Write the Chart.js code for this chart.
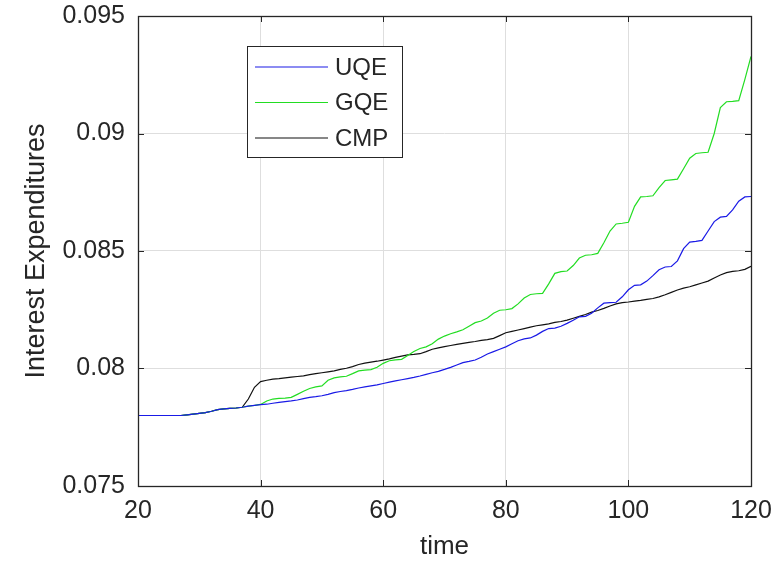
<!DOCTYPE html>
<html>
<head>
<meta charset="utf-8">
<script src="https://cdn.jsdelivr.net/npm/chart.js@4/dist/chart.umd.min.js"></script>
<style>
    html, body { margin: 0; padding: 0; background: #fff; }
    #wrap { width: 773px; height: 567px; }
</style>
</head>
<body>
<div id="wrap"><canvas id="interestChart" width="773" height="567"></canvas></div>
<script>
// time grid, 20..120
var time = [20, 21, 22, 23, 24, 25, 26, 27, 28, 29, 30, 31, 32, 33, 34, 35, 36, 37, 38, 39,
    40, 41, 42, 43, 44, 45, 46, 47, 48, 49, 50, 51, 52, 53, 54, 55, 56, 57, 58, 59,
    60, 61, 62, 63, 64, 65, 66, 67, 68, 69, 70, 71, 72, 73, 74, 75, 76, 77, 78, 79,
    80, 81, 82, 83, 84, 85, 86, 87, 88, 89, 90, 91, 92, 93, 94, 95, 96, 97, 98, 99,
    100, 101, 102, 103, 104, 105, 106, 107, 108, 109, 110, 111, 112, 113, 114, 115, 116, 117, 118, 119, 120];

// UQE
var uqe = [0.0780, 0.0780, 0.0780, 0.0780, 0.0780, 0.0780, 0.0780, 0.0780, 0.07803, 0.07806,
    0.07809, 0.07812, 0.07818, 0.07825, 0.07828, 0.0783, 0.07832, 0.07835, 0.0784, 0.07843,
    0.07846, 0.07848, 0.07852, 0.07856, 0.07859, 0.07862, 0.07866, 0.07872, 0.07877, 0.0788,
    0.07884, 0.0789, 0.07897, 0.07902, 0.07906, 0.07911, 0.07917, 0.07922, 0.07926, 0.0793,
    0.07936, 0.07942, 0.07947, 0.07952, 0.07957, 0.07962, 0.07968, 0.07975, 0.07982, 0.07988,
    0.07996, 0.08005, 0.08015, 0.08025, 0.0803, 0.08036, 0.08048, 0.08062, 0.08072, 0.08082,
    0.08092, 0.08105, 0.08118, 0.08126, 0.0813, 0.08142, 0.08158, 0.0817, 0.08172, 0.0818,
    0.08192, 0.08205, 0.0822, 0.08222, 0.08235, 0.08258, 0.08278, 0.0828, 0.08282, 0.08305,
    0.08335, 0.08354, 0.08356, 0.08372, 0.08395, 0.0842, 0.08432, 0.08434, 0.08458, 0.0851,
    0.08538, 0.08541, 0.08545, 0.08585, 0.08625, 0.08644, 0.08647, 0.08675, 0.08712, 0.0873,
    0.08732];

// GQE
var gqe = [0.0780, 0.0780, 0.0780, 0.0780, 0.0780, 0.0780, 0.0780, 0.0780, 0.07803, 0.07806,
    0.07809, 0.07812, 0.07818, 0.07825, 0.07828, 0.0783, 0.07832, 0.07835, 0.0784, 0.07843,
    0.07847, 0.07862, 0.0787, 0.07873, 0.07874, 0.07877, 0.0789, 0.07903, 0.07915, 0.07922,
    0.07926, 0.0795, 0.0796, 0.07964, 0.07967, 0.07978, 0.0799, 0.07993, 0.07995, 0.08005,
    0.08022, 0.08033, 0.08037, 0.08039, 0.08055, 0.08072, 0.08085, 0.08092, 0.08105, 0.08125,
    0.08138, 0.08148, 0.08156, 0.08165, 0.0818, 0.08195, 0.08202, 0.08215, 0.08235, 0.08248,
    0.0825, 0.08255, 0.08275, 0.083, 0.08315, 0.08318, 0.0832, 0.0836, 0.08405, 0.08412,
    0.08415, 0.08438, 0.0847, 0.08482, 0.08484, 0.0849, 0.08535, 0.08585, 0.08615, 0.08618,
    0.08622, 0.0869, 0.0873, 0.08732, 0.08735, 0.0877, 0.088, 0.08803, 0.08806, 0.0885,
    0.08895, 0.08915, 0.08918, 0.0892, 0.09, 0.0911, 0.09135, 0.09137, 0.0914, 0.0923,
    0.09328];

// CMP
var cmp = [0.0780, 0.0780, 0.0780, 0.0780, 0.0780, 0.0780, 0.0780, 0.0780, 0.07803, 0.07806,
    0.07809, 0.07812, 0.07818, 0.07825, 0.07828, 0.0783, 0.07832, 0.07835, 0.0787, 0.0792,
    0.07944, 0.0795, 0.07955, 0.07957, 0.0796, 0.07963, 0.07966, 0.07969, 0.07974, 0.07978,
    0.07982, 0.07986, 0.0799, 0.07996, 0.08001, 0.08008, 0.08017, 0.08023, 0.08027, 0.08031,
    0.08036, 0.08041, 0.08047, 0.08053, 0.08058, 0.0806, 0.08063, 0.08072, 0.08082, 0.08088,
    0.08093, 0.08098, 0.08103, 0.08107, 0.08111, 0.08115, 0.0812, 0.08123, 0.08128, 0.0814,
    0.08152, 0.08158, 0.08164, 0.0817, 0.08176, 0.08182, 0.08186, 0.0819, 0.08196, 0.082,
    0.08206, 0.08214, 0.08222, 0.0823, 0.0824, 0.08247, 0.08256, 0.08266, 0.08275, 0.0828,
    0.08283, 0.08287, 0.0829, 0.08294, 0.08298, 0.08305, 0.08314, 0.08324, 0.08334, 0.08342,
    0.08348, 0.08356, 0.08364, 0.08372, 0.08385, 0.08398, 0.08408, 0.08413, 0.08416, 0.08422,
    0.08435];

var seriesNames = ["UQE", "GQE", "CMP"];
var seriesColors = ["#1a1ae6", "#22dd22", "#111111"];

var FONT = "'Liberation Sans', Arial, sans-serif";

function pts(ys) {
    return time.map(function (t, i) { return { x: t, y: ys[i] }; });
}

// matlab style box: frame, inward ticks on all sides, legend inside the axes
var boxPlugin = {
    id: 'matlabBox',
    afterDatasetsDraw: function (chart) {
        var ctx = chart.ctx, a = chart.chartArea;
        var xs = chart.scales.x, ys = chart.scales.y;
        var tl = 6;
        ctx.save();
        ctx.strokeStyle = '#262626';
        ctx.lineWidth = 1;
        ctx.beginPath();
        xs.ticks.forEach(function (t) {
            var px = Math.round(xs.getPixelForValue(t.value)) + 0.5;
            ctx.moveTo(px, a.bottom); ctx.lineTo(px, a.bottom - tl);
            ctx.moveTo(px, a.top); ctx.lineTo(px, a.top + tl);
        });
        ys.ticks.forEach(function (t) {
            var py = Math.round(ys.getPixelForValue(t.value)) + 0.5;
            ctx.moveTo(a.left, py); ctx.lineTo(a.left + tl, py);
            ctx.moveTo(a.right, py); ctx.lineTo(a.right - tl, py);
        });
        ctx.stroke();
        ctx.lineWidth = 1.3;
        ctx.strokeRect(Math.round(a.left) + 0.5, Math.round(a.top) + 0.5,
            Math.round(a.right - a.left), Math.round(a.bottom - a.top));

        // legend
        var lx = 247.5, ly = 46.5, lw = 155, lh = 111;
        ctx.fillStyle = '#fff';
        ctx.fillRect(lx, ly, lw, lh);
        ctx.lineWidth = 1;
        ctx.strokeStyle = '#262626';
        ctx.strokeRect(lx, ly, lw, lh);
        ctx.font = '24px ' + FONT;
        ctx.textBaseline = 'middle';
        ctx.textAlign = 'left';
        chart.data.datasets.forEach(function (ds, i) {
            var y = 67 + i * 35.5;
            ctx.strokeStyle = ds.borderColor;
            ctx.lineWidth = 1.2;
            ctx.beginPath();
            ctx.moveTo(255, y); ctx.lineTo(328, y);
            ctx.stroke();
            ctx.fillStyle = '#262626';
            ctx.fillText(ds.label, 335, y + 1);
        });
        ctx.restore();
    }
};

var bgPlugin = {
    id: 'whiteBg',
    beforeDraw: function (chart) {
        var ctx = chart.ctx;
        ctx.save();
        ctx.fillStyle = '#fff';
        ctx.fillRect(0, 0, chart.width, chart.height);
        ctx.restore();
    }
};

new Chart(document.getElementById('interestChart'), {
    type: 'line',
    data: {
        datasets: seriesNames.map(function (name, i) {
            return {
                label: name,
                data: pts([uqe, gqe, cmp][i]),
                borderColor: seriesColors[i],
                borderWidth: 1.2,
                pointRadius: 0,
                tension: 0,
                fill: false
            };
        })
    },
    options: {
        responsive: false,
        animation: false,
        layout: { padding: { left: 0, top: 16, right: 22, bottom: 0 } },
        plugins: { legend: { display: false }, tooltip: { enabled: false } },
        scales: {
            x: {
                type: 'linear',
                min: 20, max: 120,
                afterFit: function (s) { s.height = 81; s.paddingLeft = 0; s.paddingRight = 0; },
                grid: { color: '#dedede', drawTicks: false },
                border: { display: false },
                ticks: {
                    stepSize: 20, padding: 10, color: '#262626',
                    font: { family: FONT, size: 25 }
                },
                title: {
                    display: true, text: 'time', color: '#262626',
                    font: { family: FONT, size: 26 },
                    padding: { top: 0, bottom: 5 }
                }
            },
            y: {
                min: 0.075, max: 0.095,
                afterFit: function (s) { s.width = 138; s.paddingTop = 0; s.paddingBottom = 0; },
                grid: { color: '#dedede', drawTicks: false },
                border: { display: false },
                ticks: {
                    stepSize: 0.005, padding: 13, color: '#262626',
                    font: { family: FONT, size: 25 },
                    callback: function (v) { return String(Number(v.toFixed(3))); }
                },
                title: {
                    display: true, text: 'Interest Expenditures', color: '#262626',
                    font: { family: FONT, size: 27 },
                    padding: { top: 20, bottom: 0 }
                }
            }
        }
    },
    plugins: [bgPlugin, boxPlugin]
});
</script>
</body>
</html>
